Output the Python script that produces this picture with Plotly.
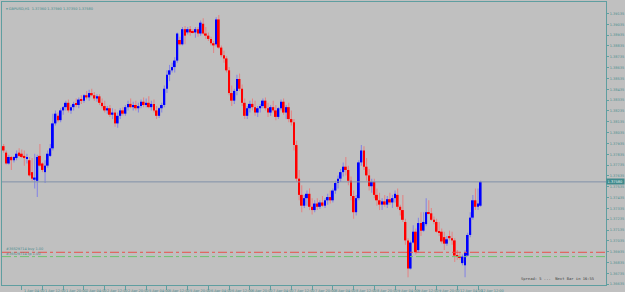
import plotly.graph_objects as go

# ---------------- data (GBPUSD, H1) ----------------
time_labels = ["31 Mar 2021", "1 Apr 04:00", "1 Apr 12:00", "1 Apr 20:00", "2 Apr 04:00",
               "2 Apr 12:00", "2 Apr 20:00", "5 Apr 04:00", "5 Apr 12:00", "5 Apr 20:00",
               "6 Apr 04:00", "6 Apr 12:00", "6 Apr 20:00", "7 Apr 04:00", "7 Apr 12:00",
               "7 Apr 20:00", "8 Apr 04:00", "8 Apr 12:00", "8 Apr 20:00", "9 Apr 04:00",
               "9 Apr 12:00", "9 Apr 20:00", "12 Apr 04:00", "12 Apr 12:00"]
bars_per_label = 8

price_ticks = [1.39135, 1.39035, 1.38935, 1.38835, 1.38735, 1.38635, 1.38535, 1.38435,
               1.38335, 1.38235, 1.38135, 1.38035, 1.37935, 1.37835, 1.37735, 1.37635,
               1.37535, 1.37435, 1.37335, 1.37235, 1.37135, 1.37035, 1.36935, 1.36835,
               1.36735, 1.36635]

opens = [1.3796,1.3791,1.3785,1.3775,1.3781,1.3778,1.3780,1.3785,1.3784,1.3782,
         1.3780,1.3778,1.3767,1.3760,1.3759,1.3782,1.3775,1.3767,1.3773,1.3782,
         1.3789,1.3812,1.3819,1.3815,1.3824,1.3827,1.3831,1.3824,1.3827,1.3830,
         1.3829,1.3834,1.3833,1.3838,1.3836,1.3840,1.3838,1.3835,1.3837,1.3831,
         1.3828,1.3824,1.3826,1.3820,1.3822,1.3812,1.3819,1.3824,1.3821,1.3827,
         1.3830,1.3827,1.3829,1.3826,1.3828,1.3832,1.3829,1.3831,1.3827,1.3830,
         1.3824,1.3819,1.3826,1.3829,1.3844,1.3857,1.3861,1.3864,1.3870,1.3889,
         1.3885,1.3899,1.3896,1.3899,1.3897,1.3896,1.3899,1.3895,1.3904,1.3895,
         1.3893,1.3890,1.3886,1.3885,1.3908,1.3882,1.3875,1.3872,1.3861,1.3840,
         1.3833,1.3842,1.3853,1.3844,1.3831,1.3819,1.3826,1.3830,1.3827,1.3822,
         1.3826,1.3828,1.3833,1.3826,1.3822,1.3827,1.3824,1.3818,1.3826,1.3832,
         1.3822,1.3827,1.3816,1.3813,1.3792,1.3761,1.3746,1.3736,1.3743,1.3747,
         1.3735,1.3732,1.3738,1.3735,1.3739,1.3736,1.3741,1.3744,1.3741,1.3750,
         1.3757,1.3761,1.3767,1.3772,1.3769,1.3759,1.3745,1.3730,1.3743,1.3776,
         1.3787,1.3772,1.3764,1.3754,1.3758,1.3746,1.3741,1.3737,1.3740,1.3737,
         1.3742,1.3739,1.3743,1.3746,1.3735,1.3732,1.3721,1.3704,1.3678,1.3702,
         1.3712,1.3695,1.3720,1.3713,1.3719,1.3730,1.3729,1.3723,1.3721,1.3712,
         1.3712,1.3707,1.3701,1.3708,1.3706,1.3704,1.3690,1.3689,1.3683,1.3681,
         1.3690,1.3709,1.3725,1.3741,1.3735,1.3736]
highs = [1.3804,1.3793,1.3787,1.3783,1.3782,1.3782,1.3787,1.3789,1.3788,1.3787,
         1.3784,1.3781,1.3780,1.3784,1.3783,1.3793,1.3776,1.3778,1.3787,1.3793,
         1.3821,1.3824,1.3822,1.3826,1.3828,1.3833,1.3834,1.3829,1.3832,1.3835,
         1.3836,1.3838,1.3839,1.3842,1.3843,1.3844,1.3841,1.3839,1.3839,1.3835,
         1.3833,1.3828,1.3829,1.3826,1.3825,1.3822,1.3826,1.3827,1.3829,1.3833,
         1.3835,1.3832,1.3833,1.3831,1.3834,1.3836,1.3835,1.3837,1.3833,1.3834,
         1.3828,1.3827,1.3831,1.3847,1.3861,1.3866,1.3868,1.3873,1.3896,1.3892,
         1.3901,1.3902,1.3901,1.3902,1.3899,1.3901,1.3901,1.3907,1.3909,1.3901,
         1.3896,1.3892,1.3888,1.3910,1.3912,1.3884,1.3879,1.3874,1.3864,1.3847,
         1.3844,1.3857,1.3858,1.3848,1.3835,1.3828,1.3833,1.3835,1.3833,1.3828,
         1.3830,1.3835,1.3836,1.3831,1.3829,1.3833,1.3829,1.3827,1.3834,1.3835,
         1.3829,1.3831,1.3824,1.3816,1.3796,1.3769,1.3755,1.3746,1.3750,1.3752,
         1.3743,1.3741,1.3743,1.3741,1.3745,1.3743,1.3747,1.3750,1.3752,1.3759,
         1.3764,1.3770,1.3776,1.3781,1.3773,1.3763,1.3750,1.3746,1.3778,1.3792,
         1.3791,1.3780,1.3770,1.3761,1.3761,1.3752,1.3748,1.3743,1.3746,1.3745,
         1.3748,1.3746,1.3750,1.3752,1.3737,1.3746,1.3724,1.3706,1.3704,1.3718,
         1.3715,1.3725,1.3730,1.3730,1.3743,1.3741,1.3734,1.3726,1.3724,1.3721,
         1.3715,1.3712,1.3708,1.3713,1.3712,1.3706,1.3695,1.3693,1.3691,1.3695,
         1.3711,1.3730,1.3746,1.3752,1.3752,1.3759]
lows = [1.3790,1.3785,1.3774,1.3774,1.3769,1.3776,1.3778,1.3781,1.3780,1.3773,
        1.3775,1.3763,1.3759,1.3752,1.3744,1.3772,1.3767,1.3757,1.3771,1.3781,
        1.3787,1.3810,1.3813,1.3813,1.3820,1.3824,1.3822,1.3821,1.3824,1.3827,
        1.3826,1.3830,1.3831,1.3834,1.3833,1.3837,1.3833,1.3832,1.3829,1.3826,
        1.3822,1.3821,1.3818,1.3816,1.3809,1.3808,1.3816,1.3819,1.3819,1.3824,
        1.3826,1.3824,1.3824,1.3822,1.3826,1.3827,1.3827,1.3826,1.3824,1.3822,
        1.3816,1.3817,1.3822,1.3827,1.3840,1.3851,1.3859,1.3859,1.3868,1.3884,
        1.3884,1.3885,1.3894,1.3893,1.3895,1.3891,1.3892,1.3893,1.3894,1.3890,
        1.3888,1.3884,1.3877,1.3883,1.3881,1.3873,1.3868,1.3859,1.3838,1.3828,
        1.3830,1.3838,1.3842,1.3828,1.3816,1.3816,1.3822,1.3824,1.3819,1.3818,
        1.3822,1.3826,1.3824,1.3818,1.3819,1.3822,1.3815,1.3816,1.3824,1.3820,
        1.3816,1.3813,1.3810,1.3787,1.3758,1.3741,1.3730,1.3734,1.3736,1.3732,
        1.3728,1.3730,1.3732,1.3733,1.3735,1.3734,1.3737,1.3738,1.3739,1.3747,
        1.3752,1.3758,1.3763,1.3764,1.3755,1.3741,1.3724,1.3727,1.3741,1.3773,
        1.3769,1.3759,1.3750,1.3748,1.3743,1.3736,1.3732,1.3732,1.3735,1.3734,
        1.3737,1.3734,1.3739,1.3733,1.3727,1.3721,1.3700,1.3670,1.3677,1.3701,
        1.3691,1.3693,1.3708,1.3712,1.3717,1.3728,1.3722,1.3719,1.3711,1.3708,
        1.3701,1.3695,1.3699,1.3704,1.3700,1.3684,1.3686,1.3686,1.3681,1.3670,
        1.3689,1.3707,1.3723,1.3732,1.3732,1.3735]
closes = [1.3791,1.3787,1.3775,1.3781,1.3778,1.3781,1.3784,1.3782,1.3781,1.3780,
          1.3781,1.3764,1.3761,1.3762,1.3781,1.3773,1.3769,1.3773,1.3784,1.3789,
          1.3812,1.3821,1.3815,1.3824,1.3827,1.3831,1.3824,1.3827,1.3830,1.3829,
          1.3834,1.3833,1.3838,1.3836,1.3840,1.3838,1.3835,1.3837,1.3831,1.3828,
          1.3824,1.3826,1.3820,1.3822,1.3812,1.3819,1.3824,1.3821,1.3827,1.3830,
          1.3827,1.3829,1.3826,1.3828,1.3832,1.3829,1.3831,1.3827,1.3830,1.3824,
          1.3819,1.3826,1.3829,1.3844,1.3857,1.3861,1.3864,1.3870,1.3895,1.3885,
          1.3899,1.3893,1.3899,1.3896,1.3896,1.3899,1.3895,1.3905,1.3895,1.3893,
          1.3890,1.3886,1.3884,1.3908,1.3882,1.3875,1.3872,1.3861,1.3840,1.3833,
          1.3842,1.3853,1.3844,1.3831,1.3819,1.3826,1.3830,1.3827,1.3822,1.3826,
          1.3828,1.3833,1.3826,1.3822,1.3827,1.3824,1.3818,1.3826,1.3832,1.3822,
          1.3827,1.3816,1.3813,1.3792,1.3761,1.3746,1.3736,1.3743,1.3747,1.3735,
          1.3732,1.3738,1.3735,1.3739,1.3736,1.3741,1.3744,1.3741,1.3750,1.3757,
          1.3761,1.3767,1.3772,1.3769,1.3759,1.3745,1.3730,1.3743,1.3776,1.3787,
          1.3772,1.3764,1.3754,1.3758,1.3746,1.3741,1.3737,1.3740,1.3737,1.3742,
          1.3739,1.3743,1.3747,1.3735,1.3732,1.3723,1.3704,1.3678,1.3702,1.3712,
          1.3693,1.3720,1.3713,1.3721,1.3730,1.3729,1.3723,1.3721,1.3712,1.3711,
          1.3703,1.3701,1.3705,1.3706,1.3704,1.3690,1.3689,1.3688,1.3689,1.3693,
          1.3709,1.3725,1.3741,1.3735,1.3738,1.3758]

order_levels = [1.3693, 1.3689]
order_texts = ["#36529714 buy 1.00", "#36529714 tp 1.00"]
symbol_title = "GBPUSD,H1  1.37360 1.37590 1.37350 1.37580"
status_text = "Spread: 5 ...  Next Bar in 16:55"

# ---------------- styling ----------------
BG = "#c0c0c0"
TEAL = "#5f9ea0"
TXT = "#4a8c8e"
W, H = 625, 292
ML, MR, MT, MB = 1, 15, 1, 7
PX_PER_BAR = 2.614
Y_TOP, Y_BOT = 1.392408, 1.366280

n = len(opens)
idx = list(range(n))
bull = [c >= o for o, c in zip(opens, closes)]

fig = go.Figure()
# wicks
for flag, col in [(True, "rgba(120,120,235,0.8)"), (False, "rgba(235,120,120,0.8)")]:
    xs = [i for i in idx if bull[i] == flag]
    fig.add_trace(go.Bar(x=xs, base=[lows[i] for i in xs], y=[highs[i] - lows[i] for i in xs],
                         width=0.42, marker=dict(color=col, line=dict(width=0)),
                         hoverinfo="skip", showlegend=False))
# bodies
for flag, col in [(True, "#0000ff"), (False, "#ff0000")]:
    xs = [i for i in idx if bull[i] == flag]
    fig.add_trace(go.Bar(x=xs, base=[min(opens[i], closes[i]) for i in xs],
                         y=[max(abs(closes[i] - opens[i]), 0.00009) for i in xs],
                         width=0.72, marker=dict(color=col, line=dict(width=0)),
                         hoverinfo="skip", showlegend=False))

plot_w = W - ML - MR
x0 = ML / PX_PER_BAR
x1 = x0 + plot_w / PX_PER_BAR

tickvals_x = [j * bars_per_label for j in range(len(time_labels))]

fig.update_layout(
    width=W, height=H, margin=dict(l=ML, r=MR, t=MT, b=MB),
    paper_bgcolor=BG, plot_bgcolor=BG, barmode="overlay", showlegend=False,
    font=dict(family="DejaVu Sans", size=3.5, color=TXT),
    xaxis=dict(range=[x0, x1], showgrid=False, zeroline=False, showline=True, mirror=True,
               linecolor=TEAL, linewidth=1, tickvals=tickvals_x, ticks="outside",
               ticklen=4, tickcolor=TEAL, tickwidth=1, showticklabels=False),
    yaxis=dict(range=[Y_BOT, Y_TOP], side="right", showgrid=False, zeroline=False,
               showline=True, mirror=True, linecolor=TEAL, linewidth=1,
               tickvals=price_ticks, ticktext=[f"{v:.5f}" for v in price_ticks],
               ticks="outside", ticklen=2, tickcolor=TEAL,
               tickfont=dict(size=3.5, color=TXT, family="DejaVu Sans")),
)

# current price line
last = closes[-1]
fig.add_shape(type="line", xref="paper", x0=0, x1=1, yref="y", y0=last, y1=last,
              line=dict(color="#8090a8", width=1))
# order lines
for lvl, col in zip(order_levels, ["#e8504a", "#6ec46e"]):
    fig.add_shape(type="line", xref="paper", x0=0, x1=1, yref="y", y0=lvl, y1=lvl,
                  line=dict(color=col, width=1, dash="dashdot"))
for lvl, txt in zip(order_levels, order_texts):
    fig.add_annotation(x=0.004, xref="paper", y=lvl, yref="y", text=txt, showarrow=False,
                       xanchor="left", yanchor="bottom", yshift=-1,
                       font=dict(size=3.5, color=TXT))

# time labels
for xv, lab in zip(tickvals_x, time_labels):
    fig.add_annotation(x=xv, xref="x", y=0, yref="paper", text=lab, showarrow=False,
                       xanchor="left", yanchor="top", xshift=0.5, yshift=-1.5,
                       font=dict(size=3.5, color=TXT))

# current price box
fig.add_annotation(x=1, xref="paper", y=last, yref="y", text=f"{last:.5f}", showarrow=False,
                   xanchor="left", yanchor="middle", xshift=0, bgcolor="#3f8a8c",
                   borderpad=0.5, font=dict(size=3.6, color="#e8f4f4"))

# title
fig.add_annotation(x=0.004, xref="paper", y=1, yref="paper", text="▾ " + symbol_title,
                   showarrow=False, xanchor="left", yanchor="top", yshift=-3,
                   font=dict(size=3.5, color="#3f8a8c"))
# status text
fig.add_annotation(x=(600 - ML) / plot_w, xref="paper", y=0, yref="paper", text=status_text,
                   showarrow=False, xanchor="right", yanchor="bottom", yshift=2,
                   font=dict(size=3.8, color="#404040", family="DejaVu Sans Mono"))

fig.write_html("out.html")
